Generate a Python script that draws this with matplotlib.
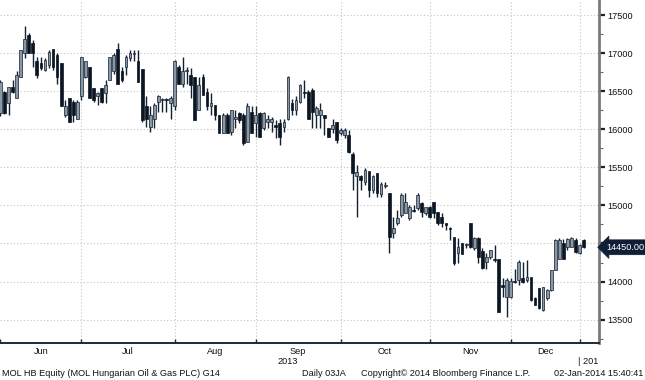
import matplotlib
matplotlib.use("Agg")
import matplotlib.pyplot as plt
import matplotlib.transforms as mtransforms
import numpy as np

# ---- data (MOL HB Equity, daily OHLC, Jun 2013 - 02 Jan 2014) ----
opens = [16210, 16490, 16340, 16550, 16410, 16690, 17000, 17240, 17130, 16890,
         16870, 16780, 16840, 17050, 16975, 16870, 16190, 16410, 16360, 16140,
         16430, 16690, 16820, 16540, 16430, 16540, 16470, 16650, 16760, 17060,
         16760, 16820, 16930, 16990, 16890, 16790, 16300, 16030, 16140, 16360,
         16380, 16400, 16340, 16300, 16820, 16600, 16770, 16710, 16690, 16250,
         16690, 16490, 16300, 16320, 16190, 15950, 16190, 15970, 16140, 16210,
         16190, 15835, 16230, 16080, 16210, 16010, 16100, 16100, 16055, 16080,
         16030, 16140, 16340, 16250, 16360, 16490, 16490, 16515, 16190, 16190,
         16190, 16010, 16000, 16100, 15950, 15925, 15925, 15670, 15380, 15380,
         15310, 15445, 15200, 15420, 15150, 15250, 15160, 14640, 14765, 14875,
         14900, 14830, 14940, 14962, 15028, 14896, 14984, 15050, 14918, 14853,
         14765, 14700, 14590, 14371, 14502, 14480, 14765, 14437, 14568, 14400,
         14260, 14325, 14300, 14300, 13953, 13800, 13800, 14000, 14020, 14040,
         14020, 14060, 13780, 13910, 13620, 13780, 13890, 14150, 14300, 14500,
         14450, 14460, 14540, 14370, 14540]
highs = [16650, 16500, 16550, 16650, 16760, 17040, 17350, 17260, 17170, 16950,
         16950, 16930, 17040, 17060, 17000, 16870, 16380, 16410, 16380, 16380,
         16950, 16890, 16820, 16540, 16490, 16540, 16650, 16950, 17000, 17130,
         16820, 16980, 17040, 17040, 17040, 16790, 16430, 16300, 16340, 16450,
         16410, 16410, 16430, 16910, 16840, 16950, 16820, 16800, 16690, 16690,
         16730, 16540, 16470, 16320, 16190, 16210, 16210, 16250, 16250, 16230,
         16210, 16340, 16300, 16300, 16230, 16230, 16190, 16165, 16120, 16140,
         16140, 16700, 16400, 16430, 16600, 16650, 16515, 16540, 16300, 16340,
         16190, 16010, 16140, 16100, 16012, 16012, 15990, 15700, 15530, 15400,
         15490, 15445, 15400, 15420, 15310, 15310, 15160, 14850, 14940, 15160,
         15160, 15006, 15006, 15160, 15050, 14984, 14993, 15050, 14918, 14896,
         14765, 14720, 14590, 14568, 14510, 14502, 14765, 14590, 14590, 14440,
         14370, 14420, 14480, 14300, 14040, 14040, 14040, 14170, 14280, 14260,
         14280, 14060, 13800, 13910, 13930, 13900, 14150, 14560, 14570, 14560,
         14570, 14580, 14570, 14490, 14560]
lows = [16180, 16200, 16190, 16470, 16410, 16690, 16930, 17000, 16820, 16670,
        16780, 16760, 16800, 16780, 16600, 16300, 16165, 16100, 16100, 16140,
        16380, 16670, 16410, 16360, 16320, 16340, 16340, 16650, 16730, 16600,
        16620, 16710, 16890, 16890, 16620, 16100, 16030, 15970, 16010, 16230,
        16230, 16230, 16140, 16250, 16600, 16560, 16600, 16410, 16120, 16250,
        16450, 16250, 16190, 16120, 15950, 15950, 15950, 15925, 16010, 16080,
        15790, 15835, 15950, 15900, 15900, 15990, 16010, 15970, 15880, 15790,
        15970, 16120, 16190, 16190, 16340, 16410, 16140, 16010, 16010, 16010,
        15925, 15900, 15950, 15815, 15925, 15880, 15685, 15200, 14850, 15200,
        15270, 15115, 15160, 15115, 15110, 15225, 14370, 14570, 14743, 14853,
        14900, 14810, 14918, 14940, 14853, 14875, 14830, 14830, 14743, 14720,
        14678, 14546, 14218, 14240, 14360, 14437, 14437, 14415, 14240, 14170,
        14170, 14300, 14260, 13600, 13800, 13540, 13780, 13975, 13950, 13975,
        14000, 13750, 13690, 13640, 13610, 13760, 13880, 14150, 14300, 14300,
        14420, 14450, 14370, 14360, 14440]
closes = [16620, 16210, 16550, 16490, 16710, 17040, 17190, 17000, 17000, 16710,
          16800, 16910, 17020, 16820, 16690, 16300, 16300, 16100, 16190, 16360,
          16950, 16890, 16410, 16380, 16470, 16360, 16580, 16950, 16980, 16600,
          16650, 16950, 17000, 17000, 16620, 16120, 16140, 16190, 16320, 16430,
          16390, 16380, 16410, 16890, 16600, 16760, 16780, 16580, 16120, 16580,
          16450, 16300, 16340, 16190, 15950, 16190, 15950, 16250, 16165, 16120,
          15815, 16300, 15950, 16190, 15900, 16210, 16140, 16140, 16035, 15900,
          16100, 16690, 16250, 16380, 16580, 16470, 16140, 16230, 16275, 16250,
          16145, 15900, 16055, 15860, 15990, 15990, 15705, 15420, 15440, 15335,
          15465, 15200, 15380, 15160, 15280, 15270, 14590, 14700, 14830, 15137,
          15050, 14984, 14930, 15137, 14918, 14984, 14853, 14896, 14765, 14765,
          14743, 14690, 14240, 14459, 14365, 14485, 14459, 14568, 14327, 14175,
          14325, 14410, 14280, 13600, 13930, 14020, 14010, 13990, 14260, 14000,
          14065, 13755, 13690, 13650, 13930, 13890, 14150, 14540, 14540, 14300,
          14560, 14570, 14390, 14480, 14450]

month_labels = ["Jun", "Jul", "Aug", "Sep", "Oct", "Nov", "Dec"]
month_starts = [0, 20, 43, 63, 84, 106, 126, 143]
y_ticks = [13500, 14000, 14500, 15000, 15500, 16000, 16500, 17000, 17500]
last_price = 14450.00

# ---- figure ----
W, H = 645, 380
fig = plt.figure(figsize=(W / 100, H / 100), dpi=100)
fig.patch.set_facecolor("white")
ax = fig.add_axes([0, 37 / H, 599 / W, 343 / H])
ax.set_facecolor("white")
FONT = "Liberation Sans"
FS = 6.6

o = np.array(opens, float)
h = np.array(highs, float)
l = np.array(lows, float)
c = np.array(closes, float)
x = np.arange(len(o))
up = c >= o

UPC = "#8a97a6"
DNC = "#0c1623"
EDGE = "#142130"

# grid
for yv in y_ticks:
    ax.axhline(yv, color="#c4c4c4", lw=0.8, ls=(0, (1, 2)), zorder=0)
for ms in month_starts[1:]:
    ax.axvline(ms, color="#c4c4c4", lw=0.8, ls=(0, (1, 2)), zorder=0)

# wicks
ax.vlines(x, l, h, color=EDGE, lw=1.0, zorder=2)
# bodies
body_h = np.maximum(np.abs(c - o), 12)
body_b = np.minimum(o, c)
ax.bar(x[up], body_h[up], bottom=body_b[up], width=0.68,
       color=UPC, edgecolor=EDGE, linewidth=0.5, zorder=3)
ax.bar(x[~up], body_h[~up], bottom=body_b[~up], width=0.68,
       color=DNC, edgecolor=DNC, linewidth=0.5, zorder=3)

ax.set_xlim(-0.1, 147.8)
ax.set_ylim(13193, 17697)

# spines
for s in ["top", "left"]:
    ax.spines[s].set_visible(False)
ax.spines["right"].set_color("#7a7a7a")
ax.spines["right"].set_linewidth(2.0)
ax.spines["bottom"].set_color("#1c2a3a")
ax.spines["bottom"].set_linewidth(1.4)

# y axis on right (the 14500 label is hidden behind the last-price box)
ax.yaxis.tick_right()
ax.set_yticks(y_ticks)
ax.set_yticks([v + 250 for v in y_ticks[:-1]] + [13250], minor=True)
ax.yaxis.set_major_formatter(matplotlib.ticker.FuncFormatter(
    lambda v, p: "" if abs(v - last_price) < 100 else f"{int(v)}"))
ax.tick_params(axis="y", which="major", length=4, width=1.6, color="#222222",
               pad=2, labelsize=FS, labelcolor="#111111", left=False)
ax.tick_params(axis="y", which="minor", length=3, width=0.8, color="#666666", left=False)
for t in ax.get_yticklabels():
    t.set_fontfamily(FONT)

# x axis: ticks at month starts, labels centred between
ax.set_xticks(month_starts)
ax.set_xticklabels([])
ax.tick_params(axis="x", which="major", direction="in", length=3, width=1.0, color="#1c2a3a")
centres = [(month_starts[i] + month_starts[i + 1]) / 2 for i in range(len(month_labels))]
ax.set_xticks(centres, minor=True)
ax.set_xticklabels(month_labels, minor=True, fontsize=FS, fontfamily=FONT, color="#111111")
ax.tick_params(axis="x", which="minor", length=0, pad=3)

trans_x = mtransforms.blended_transform_factory(ax.transData, fig.transFigure)
ax.text(71, 1 - 361 / H, "2013", transform=trans_x, ha="center", va="center",
        fontsize=FS, fontfamily=FONT, color="#111111")
ax.text(month_starts[-1] - 0.3, 1 - 361 / H, "| 201", transform=trans_x, ha="left", va="center",
        fontsize=FS, fontfamily=FONT, color="#111111")

# last price label
trans_y = mtransforms.blended_transform_factory(ax.transAxes, ax.transData)
ax.text(606 / 599, last_price, f"{last_price:.2f}", transform=trans_y, ha="left", va="center",
        fontsize=6.6, fontfamily=FONT, color="white", clip_on=False,
        bbox=dict(boxstyle="larrow,pad=0.32", fc="#0f1f36", ec="#0f1f36", lw=0.5))

# footer
fy = 1 - 374 / H
fig.text(2 / W, fy, "MOL HB Equity (MOL Hungarian Oil & Gas PLC) G14", ha="left", va="center",
         fontsize=FS, fontfamily=FONT, color="#111111")
fig.text(302 / W, fy, "Daily 03JA", ha="left", va="center", fontsize=FS, fontfamily=FONT, color="#111111")
fig.text(361 / W, fy, "Copyright\u00a9 2014 Bloomberg Finance L.P.", ha="left", va="center",
         fontsize=FS, fontfamily=FONT, color="#111111")
fig.text(643 / W, fy, "02-Jan-2014 15:40:41", ha="right", va="center", fontsize=FS,
         fontfamily=FONT, color="#111111")

fig.savefig("out.png", dpi=100, facecolor="white")
